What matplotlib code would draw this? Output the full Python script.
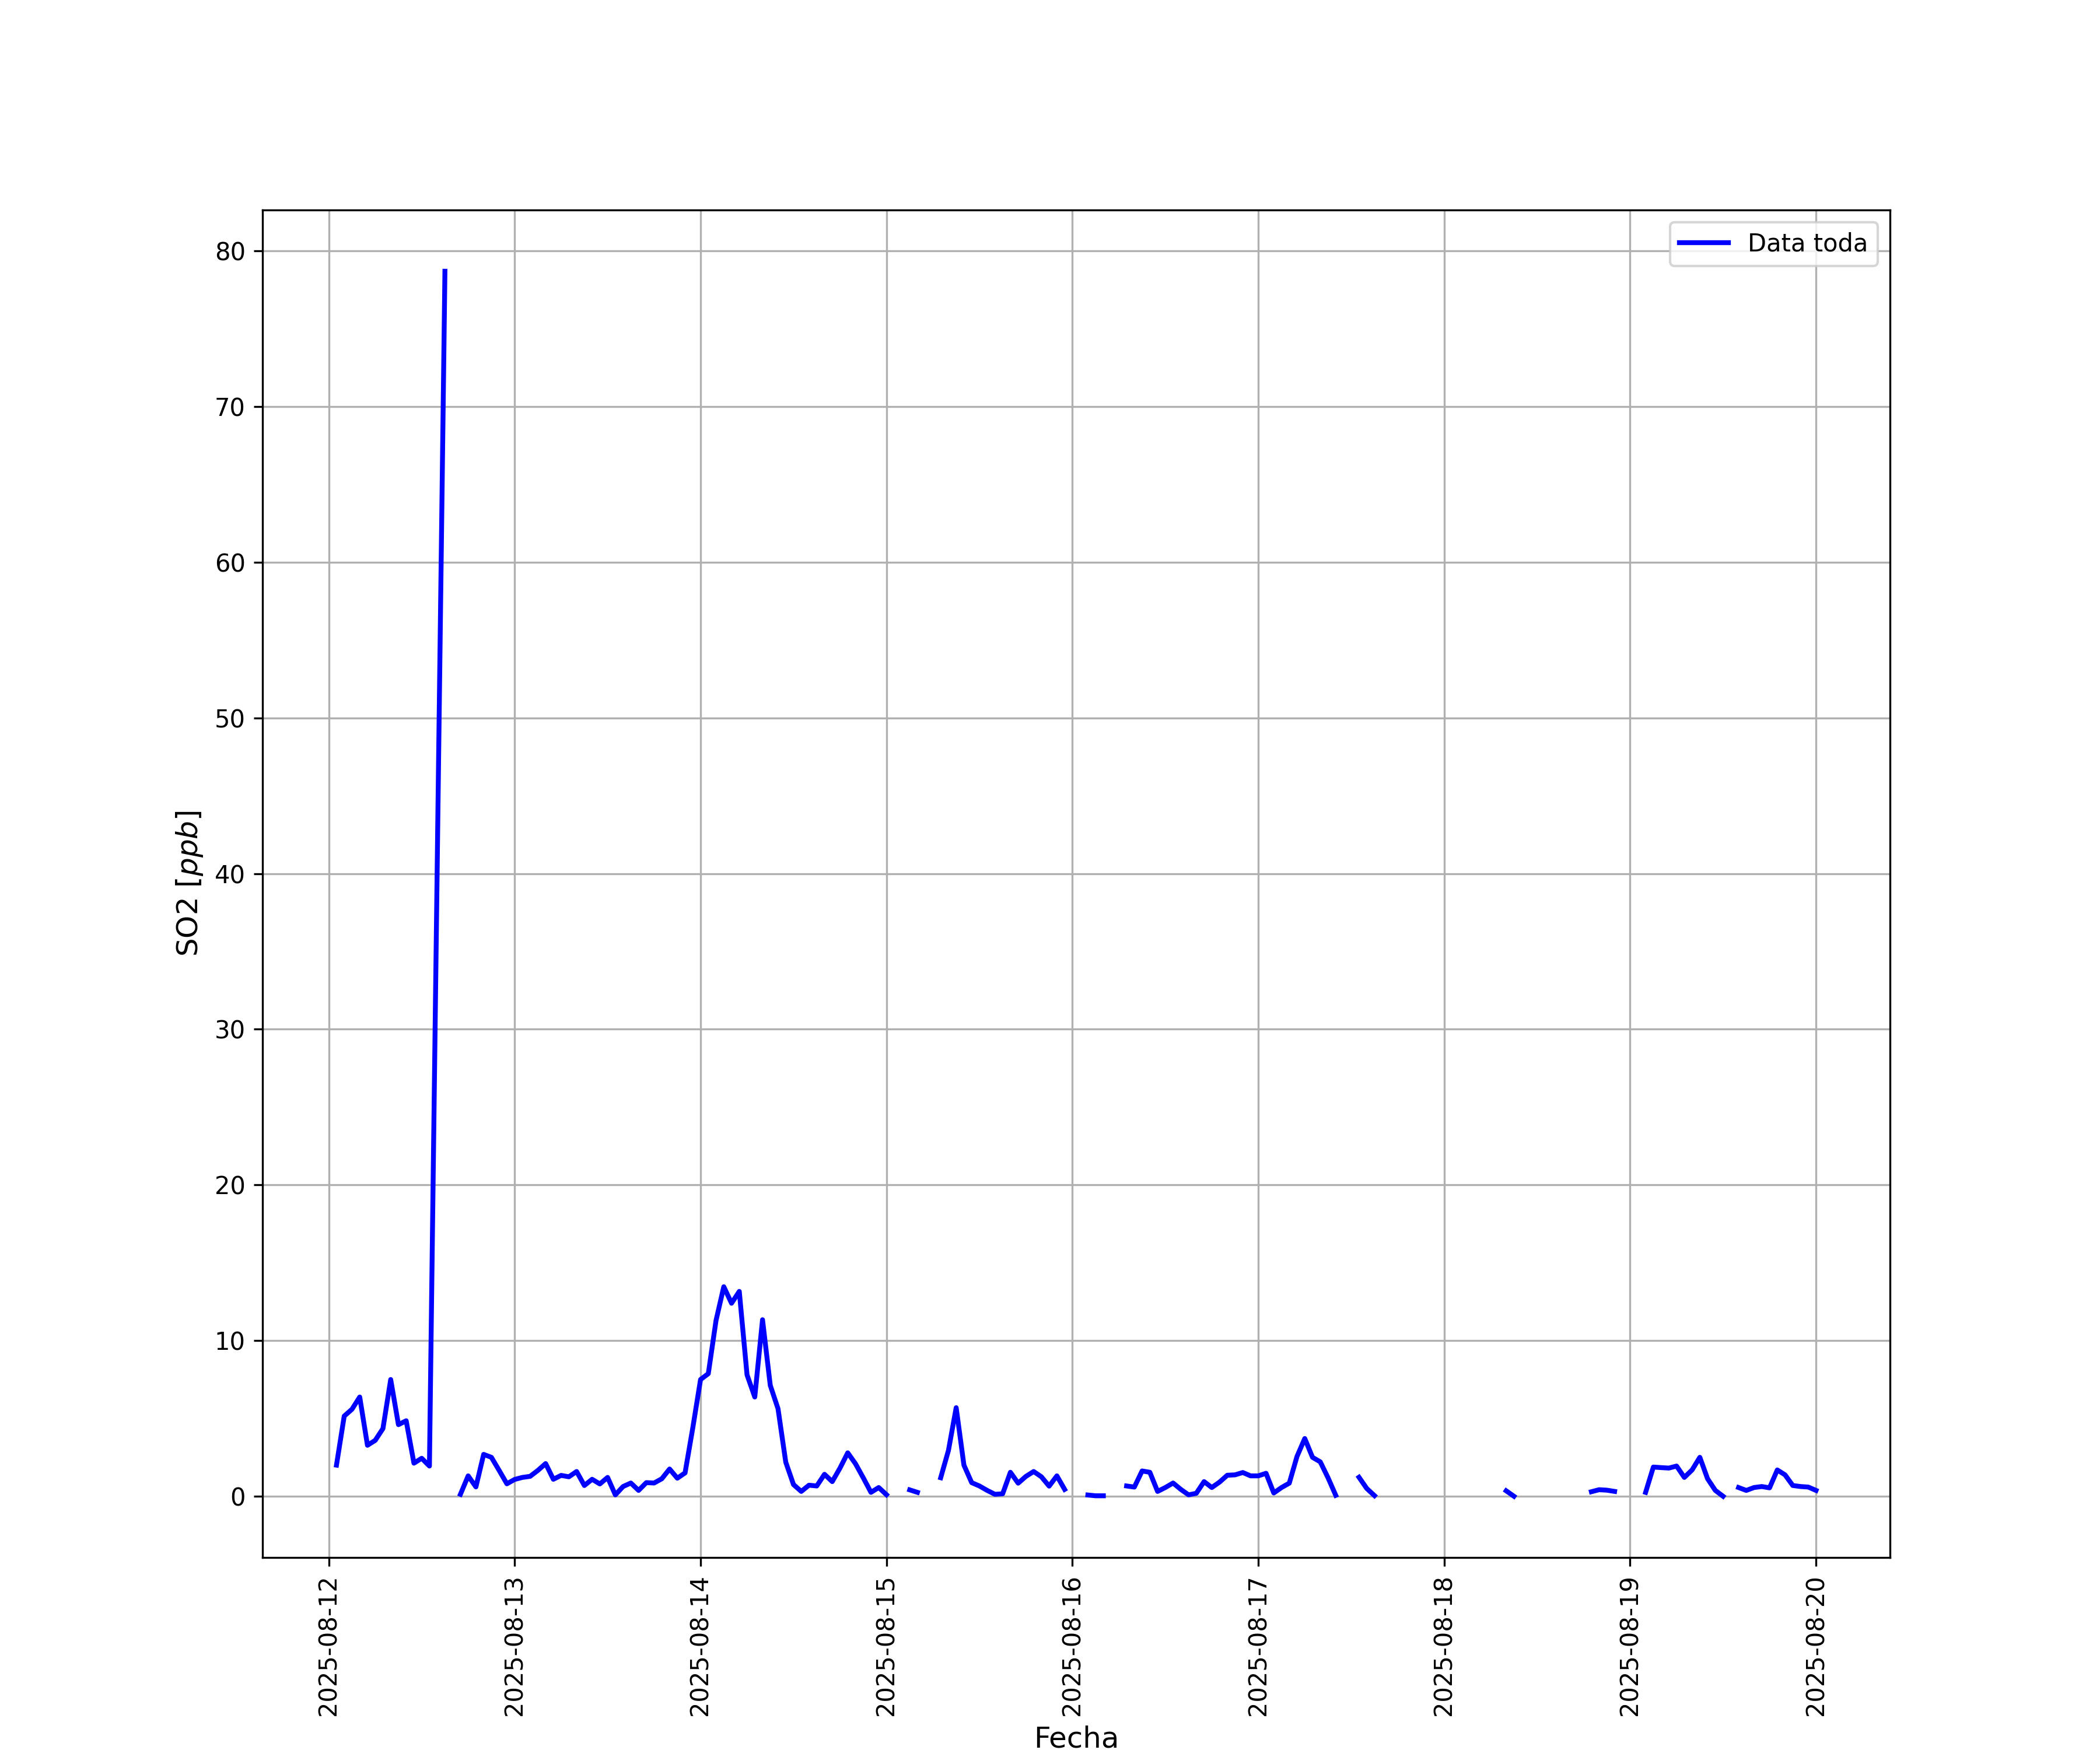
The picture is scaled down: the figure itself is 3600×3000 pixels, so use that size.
import numpy as np
import pandas as pd
import matplotlib
matplotlib.use("Agg")
import matplotlib.pyplot as plt
import matplotlib.dates as mdates

nan = np.nan

# Hourly SO2 values (ppb), index = hour of day (0..23); nan = gap in the series
day_2025_08_12 = [nan, 2.0, 5.15, 5.59, 6.375, 3.275, 3.59, 4.35, 7.5, 4.6, 4.85, 2.125,
                  2.44, 1.94, nan, 78.7, nan, 0.125, 1.31, 0.6, 2.69, 2.5, 1.66, 0.8]
day_2025_08_13 = [1.08, 1.21, 1.28, 1.66, 2.1, 1.09, 1.34, 1.25, 1.59, 0.69, 1.09, 0.79,
                  1.21, 0.09, 0.625, 0.85, 0.375, 0.875, 0.85, 1.125, 1.75, 1.16, 1.5, 4.4]
day_2025_08_14 = [7.5, 7.875, 11.3, 13.46, 12.4, 13.16, 7.8, 6.375, 11.34, 7.125, 5.625, 2.19,
                  0.75, 0.31, 0.71, 0.66, 1.41, 0.94, 1.81, 2.79, 2.09, 1.19, 0.25, 0.56]
day_2025_08_15 = [0.1, nan, nan, 0.41, 0.25, nan, nan, 1.19, 2.94, 5.69, 2.0, 0.875,
                  0.66, 0.375, 0.125, 0.16, 1.54, 0.84, 1.275, 1.59, 1.25, 0.65, 1.31, 0.44]
day_2025_08_16 = [nan, nan, 0.08, 0.03, 0.03, nan, nan, 0.66, 0.59, 1.625, 1.54, 0.31,
                  0.56, 0.85, 0.44, 0.09, 0.19, 0.94, 0.56, 0.91, 1.35, 1.375, 1.525, 1.31]
day_2025_08_17 = [1.31, 1.475, 0.21, 0.56, 0.84, 2.56, 3.71, 2.5, 2.21, 1.19, 0.06, nan,
                  nan, 1.22, 0.5, 0.04, nan, nan, nan, nan, nan, nan, nan, nan]
day_2025_08_18 = [nan, nan, nan, nan, nan, nan, nan, nan, 0.35, 0.0, nan, nan,
                  nan, nan, nan, nan, nan, nan, nan, 0.29, 0.42, 0.39, 0.31, nan]
day_2025_08_19 = [nan, nan, 0.25, 1.875, 1.84, 1.81, 1.94, 1.21, 1.69, 2.5, 1.125, 0.375,
                  0.0, nan, 0.56, 0.375, 0.56, 0.625, 0.54, 1.69, 1.375, 0.69, 0.625, 0.59]
day_2025_08_20 = [0.375]

days = ["2025-08-12", "2025-08-13", "2025-08-14", "2025-08-15", "2025-08-16",
        "2025-08-17", "2025-08-18", "2025-08-19", "2025-08-20"]
day_values = [day_2025_08_12, day_2025_08_13, day_2025_08_14, day_2025_08_15,
              day_2025_08_16, day_2025_08_17, day_2025_08_18, day_2025_08_19,
              day_2025_08_20]

# timestamps absent from the record (no row at all -> line joins across them)
first_timestamp = "2025-08-12 01:00"
missing_rows = ["2025-08-12 14:00"]

times, vals = [], []
for d, v in zip(days, day_values):
    for h, val in enumerate(v):
        times.append(pd.Timestamp(d) + pd.Timedelta(hours=h))
        vals.append(val)
series = pd.Series(vals, index=pd.DatetimeIndex(times))
series = series[series.index >= pd.Timestamp(first_timestamp)]
series = series.drop(pd.to_datetime(missing_rows))

fig, ax = plt.subplots(figsize=(12, 10), dpi=300)
ax.plot(series.index, series.values, color="blue", linewidth=2, label="Data toda")
ax.xaxis.set_major_locator(mdates.DayLocator())
ax.xaxis.set_major_formatter(mdates.DateFormatter("%Y-%m-%d"))
for lbl in ax.get_xticklabels():
    lbl.set_rotation(90)
ax.set_xlabel("Fecha", fontsize=12)
ax.set_ylabel("SO2 [$ppb$]", fontsize=12)
ax.grid(True)
ax.legend(loc="upper right")
fig.savefig("out.png", dpi=300)
